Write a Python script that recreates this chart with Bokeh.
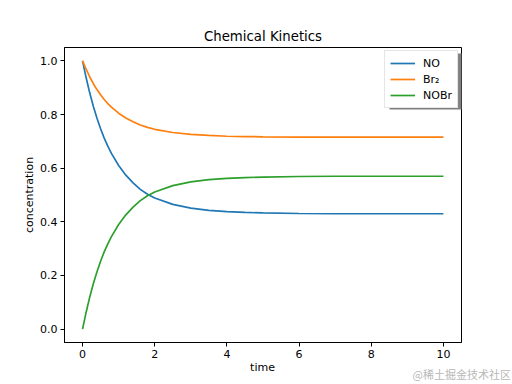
from bokeh.plotting import figure
from bokeh.models import (Legend, LegendItem, BoxAnnotation, Label, FixedTicker,
                          PrintfTickFormatter, Range1d)
from bokeh.embed import file_html
from bokeh.resources import INLINE

# ---- data ----
time = [0, 0.1, 0.2, 0.3, 0.4, 0.5, 0.6, 0.7, 0.8, 1.0, 1.2, 1.4, 1.6, 1.8, 2.0,
        2.5, 3.0, 3.5, 4.0, 4.5, 5, 6, 7, 8, 10]
no = [1.000, 0.937, 0.880, 0.830, 0.786, 0.747, 0.712, 0.682, 0.655, 0.610, 0.574,
      0.545, 0.521, 0.503, 0.489, 0.465, 0.451, 0.443, 0.438, 0.435, 0.433, 0.431,
      0.430, 0.430, 0.430]
br2 = [1.000, 0.969, 0.940, 0.915, 0.893, 0.874, 0.856, 0.841, 0.828, 0.805, 0.787,
       0.773, 0.761, 0.752, 0.745, 0.733, 0.726, 0.722, 0.719, 0.718, 0.717, 0.716,
       0.716, 0.716, 0.716]
nobr = [0.000, 0.063, 0.120, 0.170, 0.214, 0.253, 0.288, 0.318, 0.345, 0.390, 0.426,
        0.455, 0.479, 0.497, 0.511, 0.535, 0.549, 0.557, 0.562, 0.565, 0.567, 0.569,
        0.570, 0.570, 0.570]
series_names = ["NO", "Br\u2082", "NOBr"]
x_ticks = [0, 2, 4, 6, 8, 10]
y_ticks = [0.0, 0.2, 0.4, 0.6, 0.8, 1.0]
x_label = "time"
y_label = "concentration"
watermark = "@稀土掘金技术社区"

FONT = "DejaVu Sans"
colors = ["#1f77b4", "#ff7f0e", "#2ca02c"]

p = figure(width=512, height=384, output_backend="svg", toolbar_location=None,
           x_range=Range1d(-0.5, 10.5), y_range=Range1d(-0.05, 1.05),
           min_border_left=64, min_border_right=51, min_border_top=47,
           min_border_bottom=42, title="Chemical Kinetics")
p.background_fill_color = "white"
p.border_fill_color = "white"
p.grid.visible = False
p.outline_line_color = "black"
p.outline_line_width = 1
p.outline_line_alpha = 1

p.title.align = "center"
p.title.text_font = FONT
p.title.text_font_size = "13.3px"
p.title.text_font_style = "normal"
p.title.text_color = "black"
p.title.standoff = 8

for ax in (p.xaxis[0], p.yaxis[0]):
    ax.major_label_text_font = FONT
    ax.major_label_text_font_size = "11px"
    ax.major_label_text_color = "black"
    ax.axis_label_text_font = FONT
    ax.axis_label_text_font_size = "11px"
    ax.axis_label_text_font_style = "normal"
    ax.axis_label_text_color = "black"
    ax.major_tick_in = 0
    ax.major_tick_out = 4
    ax.minor_tick_in = 0
    ax.minor_tick_out = 0
    ax.axis_line_color = "black"
    ax.major_tick_line_color = "black"
    ax.major_label_standoff = 3

p.xaxis.ticker = FixedTicker(ticks=x_ticks)
p.yaxis.ticker = FixedTicker(ticks=y_ticks)
p.xaxis.formatter = PrintfTickFormatter(format="%d")
p.yaxis.formatter = PrintfTickFormatter(format="%.1f")
p.yaxis.axis_label = y_label
p.yaxis.axis_label_standoff = 1

renderers = []
for ys, c in zip([no, br2, nobr], colors):
    r = p.line(time, ys, line_color=c, line_width=1.7)
    renderers.append(r)

# legend drop shadow (behind the legend box)
shadow = BoxAnnotation(left=8.505, right=10.6, top=1.0276, bottom=0.8188,
                       fill_color="#808080", fill_alpha=1.0, line_color=None,
                       level="underlay")
p.add_layout(shadow)

legend = Legend(items=[LegendItem(label=n, renderers=[r]) for n, r in zip(series_names, renderers)],
                location="top_right")
legend.margin = 3
legend.padding = 5
legend.spacing = 2
legend.glyph_width = 25
legend.glyph_height = 14
legend.label_height = 14
legend.label_standoff = 8
legend.label_text_font = FONT
legend.label_text_font_size = "11px"
legend.label_text_color = "black"
legend.border_line_color = "#cccccc"
legend.border_line_width = 1
legend.background_fill_color = "white"
legend.background_fill_alpha = 1.0
p.add_layout(legend, "center")

# x-axis title, kept in the (otherwise empty) right panel so it adds no height below
xl = Label(x=262, y=367, x_units="canvas", y_units="canvas", text=x_label,
           text_font=FONT, text_font_size="11px", text_color="black",
           text_align="center", text_baseline="middle")
p.add_layout(xl, "right")

# watermark text in the bottom panel (not clipped to the plot frame)
wm = Label(x=412, y=381, x_units="canvas", y_units="canvas", text=watermark,
           text_font="Noto Sans CJK SC", text_font_size="11px", text_color="#b8b8b8")
p.add_layout(wm, "below")

open("out.html", "w").write(file_html(p, INLINE))
